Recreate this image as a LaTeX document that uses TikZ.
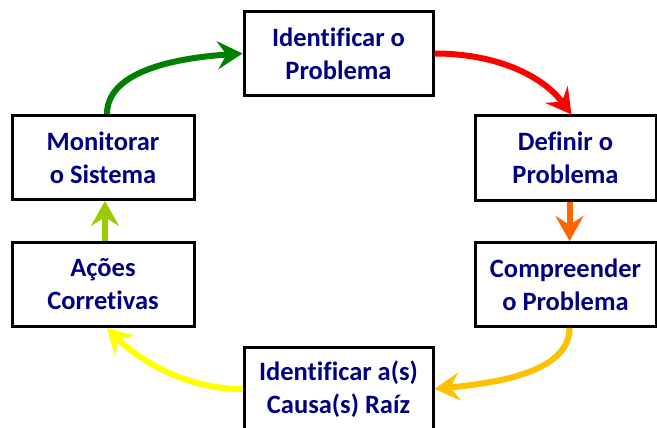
\documentclass[tikz,border=0pt]{standalone}
\usepackage{fontspec}
\setmainfont[Ligatures=NoCommon]{Carlito}
\usetikzlibrary{arrows.meta}
\definecolor{navytext}{RGB}{0,0,128}
\definecolor{cgreen}{RGB}{0,128,0}
\definecolor{cred}{RGB}{255,0,0}
\definecolor{corange}{RGB}{255,102,0}
\definecolor{cgold}{RGB}{255,192,0}
\definecolor{cyellow}{RGB}{255,255,0}
\definecolor{clime}{RGB}{153,204,0}
\begin{document}
\begin{tikzpicture}[x=1pt,y=-1pt,
  stepbox/.style={draw=black,line width=3pt,fill=white,rectangle,
    minimum width=#1,minimum height=84pt,inner sep=0pt,align=center,
    text=navytext,font=\fontsize{26.5}{33}\selectfont\bfseries},
  stepbox/.default=189pt,
  cyc/.style={line width=6pt,-{Stealth[length=25pt,width=28pt,inset=9pt]}},
]
\useasboundingbox (0,0) rectangle (657,428);
\fill[white] (0,0) rectangle (657,428);

\node[stepbox] (ident) at (338.5,53.5) {Identificar o\\Problema};
\node[stepbox=181pt] (def) at (565.5,158) {Definir o\\Problema};
\node[stepbox=181pt] (comp) at (565.5,284.5) {Compreender\\o Problema};
\node[stepbox] (causa) at (338.5,389) {Identificar a(s)\\Causa(s) Raíz};
\node[stepbox=182pt] (acoes) at (103,284.5) {Ações\\Corretivas};
\node[stepbox=182pt] (mon) at (103,157.5) {Monitorar\\o Sistema};

% cycle connectors
\draw[cyc,cred] (ident.east) .. controls +(60,0) and +(-30,-40) .. ([xshift=6pt]def.north);
\draw[cyc,corange] ([xshift=4pt]def.south) -- ([xshift=4pt]comp.north);
\draw[cyc,cgold] ([xshift=4pt]comp.south) .. controls +(0,45) and +(60,-6) .. (causa.east);
\draw[cyc,cyellow] (causa.west) .. controls +(-60,0) and +(30,30) .. ([xshift=4pt]acoes.south);
\draw[cyc,clime] ([xshift=2pt]acoes.north) -- ([xshift=2pt]mon.south);
\draw[cyc,cgreen] ([xshift=4pt]mon.north) .. controls +(0,-45) and +(-60,4) .. (ident.west);
\end{tikzpicture}
\end{document}
